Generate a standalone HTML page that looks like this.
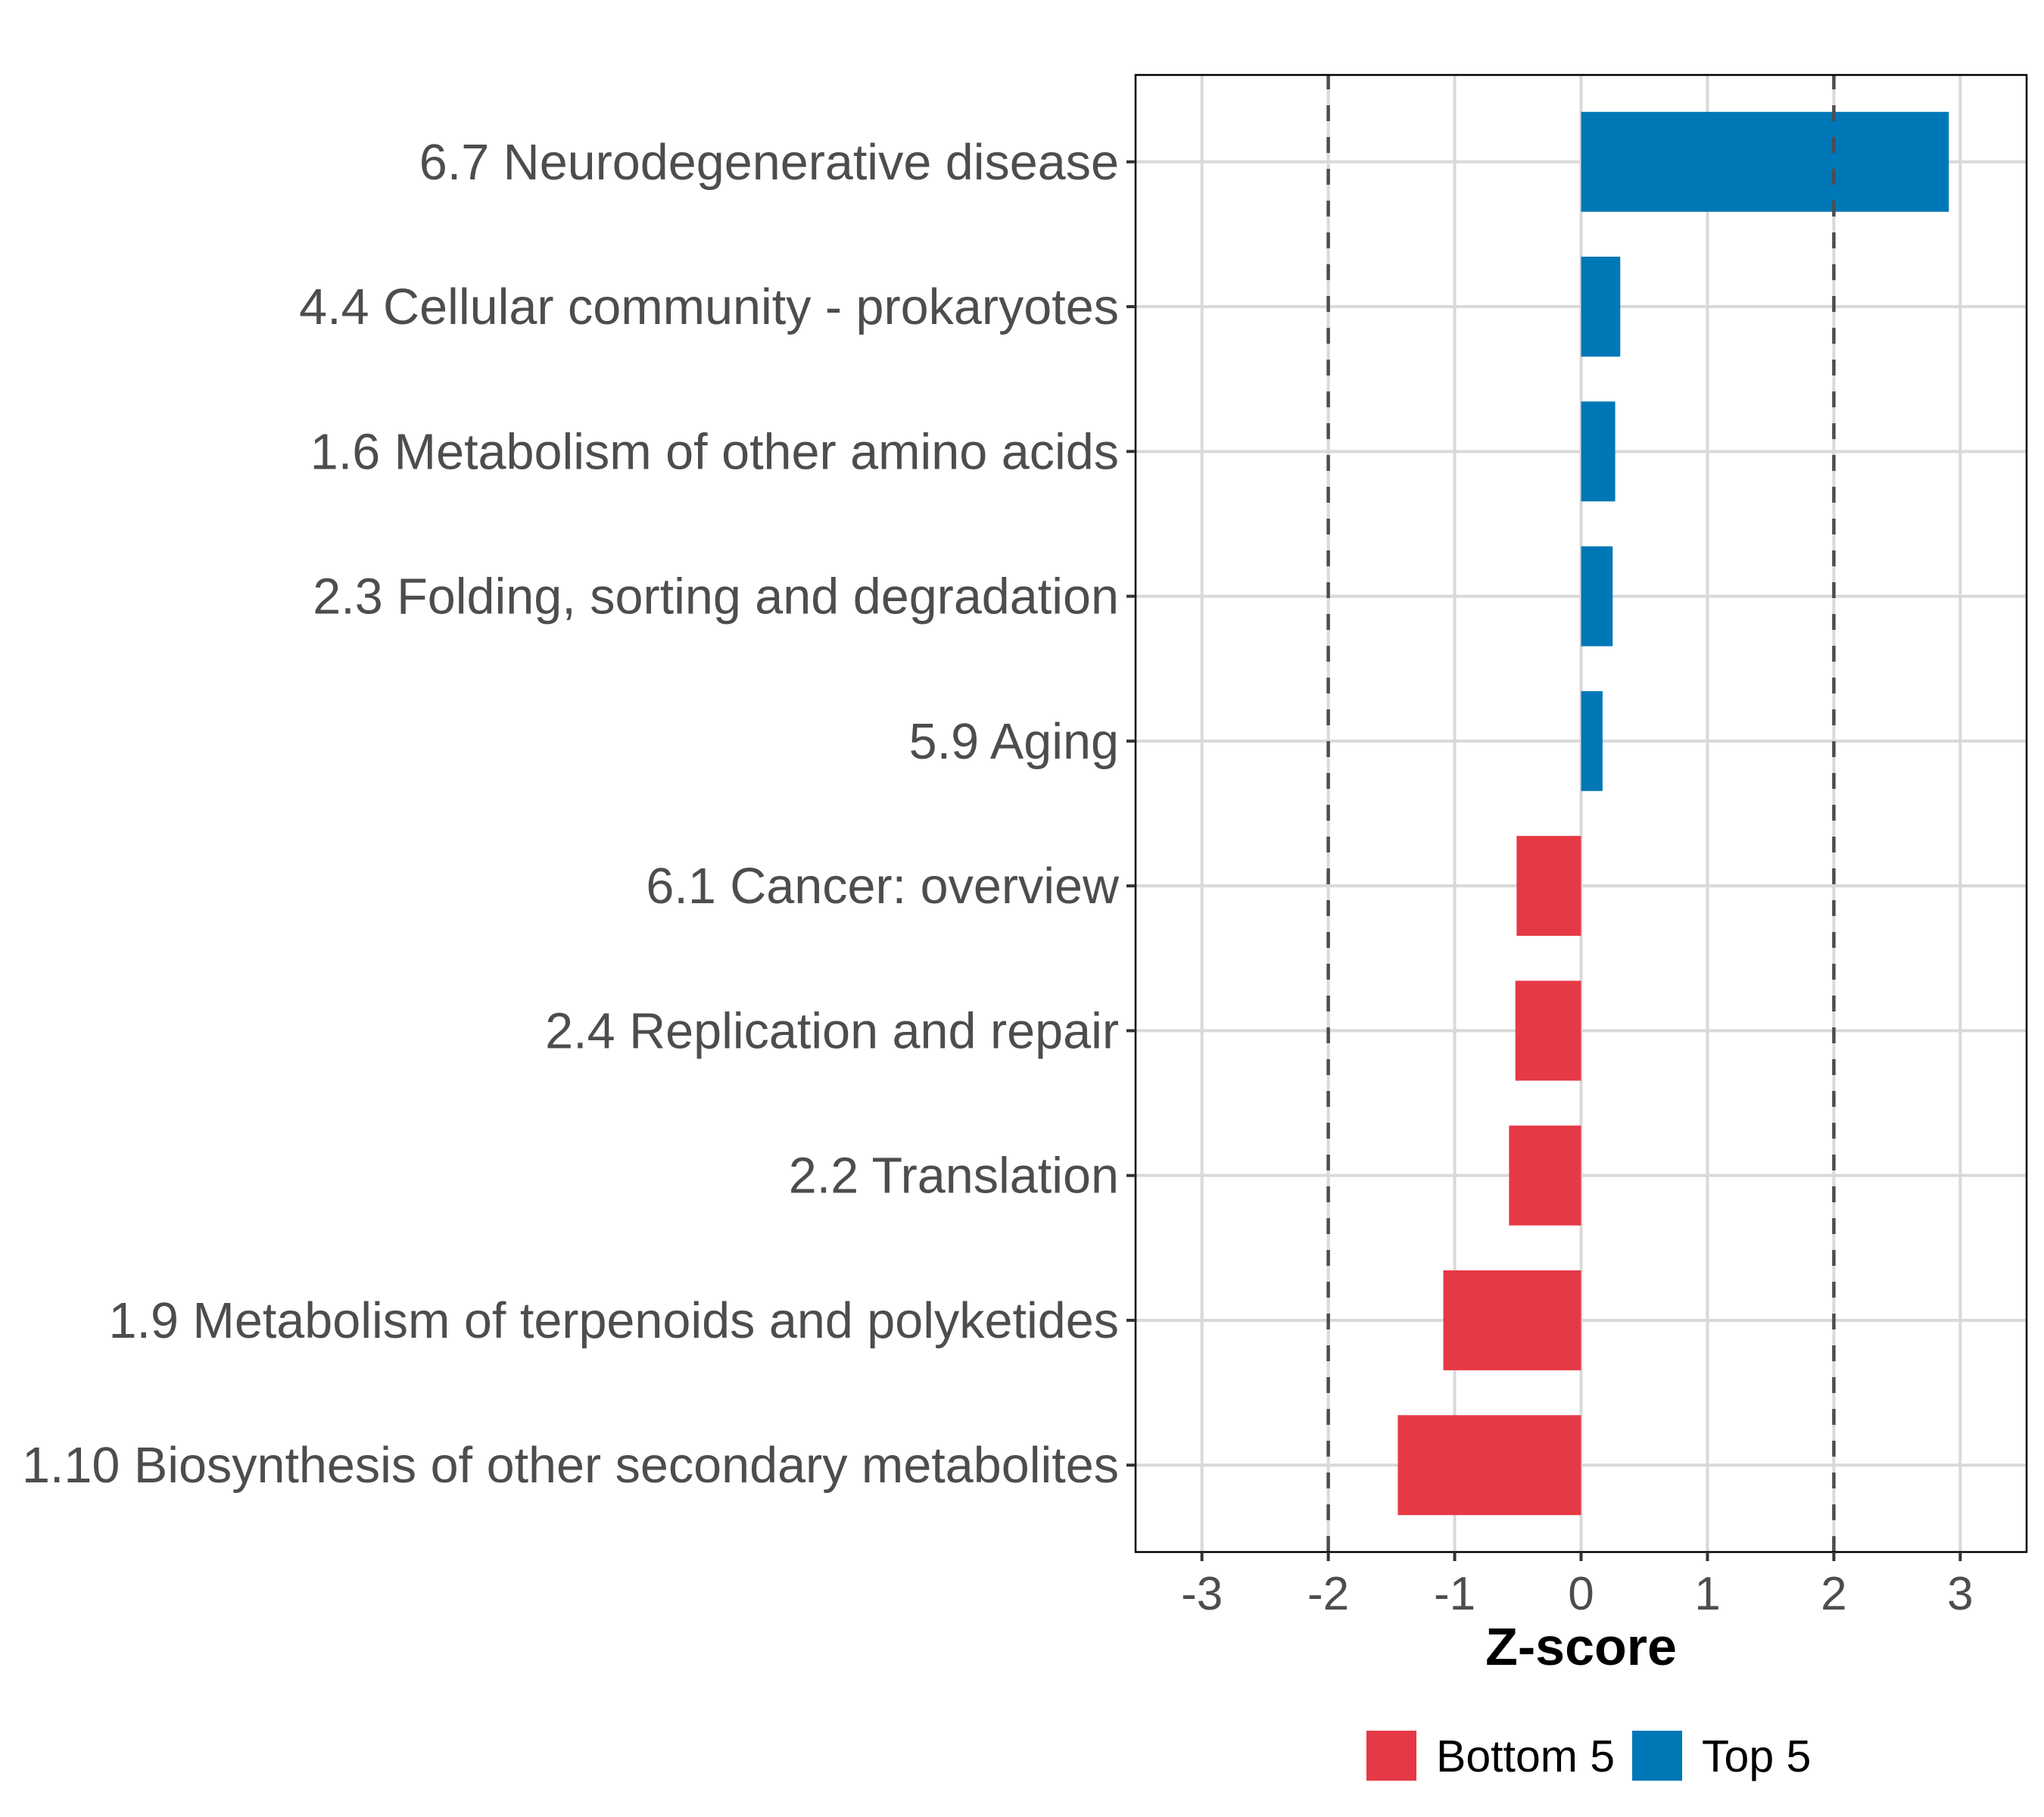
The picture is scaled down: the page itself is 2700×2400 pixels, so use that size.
<!DOCTYPE html>
<html><head><meta charset="utf-8"><style>
html,body{margin:0;padding:0;background:#fff;}
svg{display:block;font-family:"Liberation Sans",sans-serif;}
</style></head><body>
<svg id="chart" width="2700" height="2400" viewBox="0 0 2700 2400"></svg>
<script>
const categories = ["6.7 Neurodegenerative disease","4.4 Cellular community - prokaryotes","1.6 Metabolism of other amino acids","2.3 Folding, sorting and degradation","5.9 Aging","6.1 Cancer: overview","2.4 Replication and repair","2.2 Translation","1.9 Metabolism of terpenoids and polyketides","1.10 Biosynthesis of other secondary metabolites"];
const zscores = [2.91,0.31,0.27,0.25,0.17,-0.51,-0.52,-0.57,-1.09,-1.45];
const groups = ["Top 5","Top 5","Top 5","Top 5","Top 5","Bottom 5","Bottom 5","Bottom 5","Bottom 5","Bottom 5"];
const xTicks = [-3,-2,-1,0,1,2,3];
const thresholds = [-2,2];
const legendLabels = ["Bottom 5","Top 5"];

const NS="http://www.w3.org/2000/svg";
const svg=document.getElementById('chart');
const L=1500,R=2677,T=99,B=2050;
const xmin=-3.525,xmax=3.525;
const x=v=>L+(v-xmin)/(xmax-xmin)*(R-L);
const step=(B-T)/(categories.length-1+1.2);
const y=i=>T+step*(0.6+i);
const colors={"Bottom 5":"#E63946","Top 5":"#0077B6"};
function mk(tag,attrs,parent){const e=document.createElementNS(NS,tag);for(const k in attrs)e.setAttribute(k,attrs[k]);(parent||svg).appendChild(e);return e;}

xTicks.forEach(t=>{
  const g=mk('line',{x1:x(t),x2:x(t),y1:T,y2:B,stroke:'#d9d9d9','stroke-width':4});
  
  
});
categories.forEach((c,i)=>{
  const g=mk('line',{x1:L,x2:R,y1:y(i),y2:y(i),stroke:'#d9d9d9','stroke-width':4});
  
  
});
const bh=step*0.69;
categories.forEach((c,i)=>{
  const v=zscores[i];
  const b=mk('rect',{x:Math.min(x(0),x(v)),y:y(i)-bh/2,width:Math.abs(x(v)-x(0)),height:bh,fill:colors[groups[i]]});
  
  
});
thresholds.forEach(t=>{
  const l=mk('line',{x1:x(t),x2:x(t),y1:B,y2:T,stroke:'#4d4d4d','stroke-width':4.5,'stroke-dasharray':'21 21'});
  
  
});
const pb=mk('rect',{x:L,y:T,width:R-L,height:B-T,fill:'none',stroke:'#000','stroke-width':2.5});


categories.forEach((c,i)=>{
  const tk=mk('line',{x1:L-12,x2:L,y1:y(i),y2:y(i),stroke:'#333','stroke-width':4});
  
  
  const t=mk('text',{x:L-22,y:y(i)+23,'text-anchor':'end','font-size':66.5,fill:'#4d4d4d'});
  t.textContent=c;
  
  
});
xTicks.forEach(v=>{
  const tk=mk('line',{x1:x(v),x2:x(v),y1:B,y2:B+12,stroke:'#333','stroke-width':4});
  
  
  const t=mk('text',{x:x(v),y:B+76,'text-anchor':'middle','font-size':62,fill:'#4d4d4d'});
  t.textContent=String(v);
  
  
});
const xt=mk('text',{x:x(0),y:2199,'text-anchor':'middle','font-size':70,'font-weight':'bold',fill:'#000'});
xt.textContent='Z-score';


const lx=[1805,2156];
legendLabels.forEach((lab,i)=>{
  const k=mk('rect',{x:lx[i],y:2286,width:66,height:66,fill:colors[lab]});
  
  
  const t=mk('text',{x:lx[i]+92,y:2340,'font-size':59,fill:'#000'});
  t.textContent=lab;
  
  
});
</script>
</body></html>
